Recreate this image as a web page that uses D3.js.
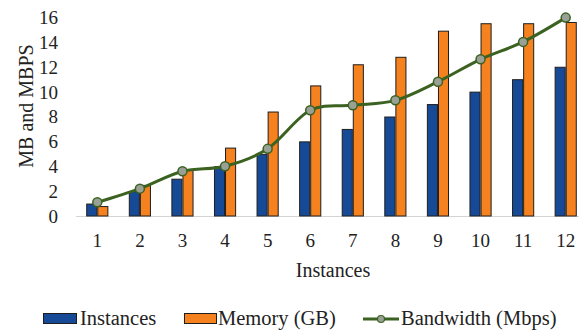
<!DOCTYPE html>
<html><head><meta charset="utf-8">
<script src="https://cdn.jsdelivr.net/npm/d3@7"></script>
<style>body{margin:0;background:#fff}svg{display:block}</style>
</head><body><svg id="c" width="579" height="334"></svg>
<script>
const categories = ["1","2","3","4","5","6","7","8","9","10","11","12"];
const instances = [1,2,3,4,5,6,7,8,9,10,11,12];
const memory = [0.8,2.5,3.7,5.5,8.4,10.5,12.2,12.8,14.9,15.5,15.5,15.6];
const bandwidth = [1.1,2.2,3.6,4.0,5.4,8.5,8.9,9.3,10.8,12.6,14.0,15.95];
const yTicks = [0,2,4,6,8,10,12,14,16];
const seriesNames = ["Instances","Memory (GB)","Bandwidth (Mbps)"];

const FONT = "'Liberation Serif', 'Times New Roman', Tinos, 'DejaVu Serif', serif";
const svg = d3.select("#c");
const L = 76, R = 587, T = 17, B = 216;
const x0 = d3.scaleBand().domain(categories).range([L, R]).paddingInner(0.48).paddingOuter(0.24);
const x1 = d3.scaleBand().domain(["inst","mem"]).range([0, x0.bandwidth()]);
const y = d3.scaleLinear().domain([0,16]).range([B, T]);
const cx = c => x0(c) + x0.bandwidth()/2;

// baseline
svg.append("line").attr("x1", L).attr("x2", 579).attr("y1", B+0.5).attr("y2", B+0.5)
  .attr("stroke", "#d4d4d4").attr("stroke-width", 1);

// y axis ticks
const yAxis = d3.axisLeft(y).tickValues(yTicks).tickSize(0).tickPadding(0);
const gy = svg.append("g").attr("transform", "translate(58,0)").call(yAxis)
  .attr("font-family", null).attr("font-size", null);
gy.select(".domain").remove();
gy.selectAll("text").style("font-family", FONT).style("font-size","19px").attr("fill","#222").attr("dy","0.34em");

// x axis ticks
const xAxis = d3.axisBottom(x0).tickSize(0).tickPadding(0);
const gx = svg.append("g").attr("transform", `translate(0,${B})`).call(xAxis)
  .attr("font-family", null).attr("font-size", null);
gx.select(".domain").remove();
gx.selectAll("text").style("font-family", FONT).style("font-size","19px").attr("fill","#222").attr("dy","0").attr("y", 31);

// bars
const colors = {inst:"#174a96", mem:"#f5821f"};
const g = svg.append("g");
categories.forEach((c,i) => {
  [["inst", instances[i]], ["mem", memory[i]]].forEach(([k,v]) => {
    g.append("rect")
      .attr("x", x0(c) + x1(k) + 0.5).attr("y", y(v) + 0.5)
      .attr("width", x1.bandwidth() - 1).attr("height", y(0) - y(v) - 0.5)
      .attr("fill", colors[k]).attr("stroke", "#1e1e1e").attr("stroke-width", 1);
  });
});

// line
const line = d3.line().x((d,i) => cx(categories[i])).y(d => y(d)).curve(d3.curveCardinal.tension(0));
svg.append("path").datum(bandwidth).attr("d", line)
  .attr("fill","none").attr("stroke","#3b6220").attr("stroke-width",3);
svg.selectAll("circle.pt").data(bandwidth).join("circle").attr("class","pt")
  .attr("cx",(d,i)=>cx(categories[i])).attr("cy",d=>y(d)).attr("r",4.5)
  .attr("fill","#9aa096").attr("stroke","#3b6220").attr("stroke-width",1.5);

// axis titles
const txt = (x, yy, s, size) => svg.append("text").attr("x", x).attr("y", yy)
  .style("font-family", FONT).style("font-size", size).attr("fill", "#222").text(s);
txt(333, 277, "Instances", "20px").attr("text-anchor","middle");
svg.append("text").attr("transform","translate(33,106) rotate(-90)").attr("text-anchor","middle")
  .style("font-family", FONT).style("font-size","20px").attr("fill","#222").text("MB and MBPS");

// legend
svg.append("rect").attr("x",43.5).attr("y",313.5).attr("width",33).attr("height",10)
  .attr("fill",colors.inst).attr("stroke","#1e1e1e");
txt(80, 325, seriesNames[0], "20.5px");
svg.append("rect").attr("x",184.5).attr("y",313.5).attr("width",32).attr("height",10)
  .attr("fill",colors.mem).attr("stroke","#1e1e1e");
txt(218, 325, seriesNames[1], "20.5px");
svg.append("line").attr("x1",363).attr("x2",399).attr("y1",319).attr("y2",319)
  .attr("stroke","#3b6220").attr("stroke-width",3);
svg.append("circle").attr("cx",381).attr("cy",319).attr("r",3.5)
  .attr("fill","#9aa096").attr("stroke","#3b6220").attr("stroke-width",1.2);
txt(401, 325, seriesNames[2], "20.5px");
</script></body></html>
